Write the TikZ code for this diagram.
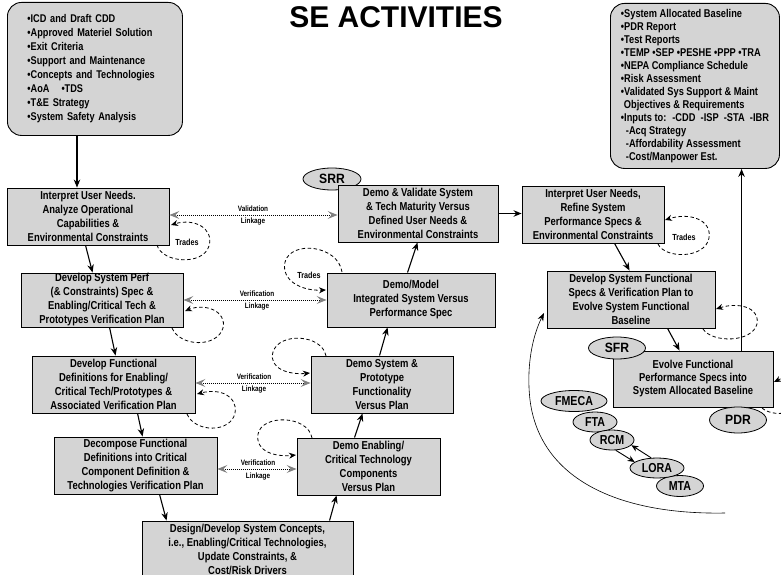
\documentclass[tikz,border=0pt]{standalone}
\usepackage{fontspec}
\setmainfont{Liberation Sans}[FakeStretch=0.82]
\newfontfamily\titlefont{Liberation Sans}
\newfontfamily\ovfont{Liberation Sans}[FakeStretch=0.9]
\usetikzlibrary{arrows.meta,shapes.geometric}
\definecolor{boxgray}{RGB}{212,212,212}
\definecolor{tipgray}{RGB}{128,128,128}
\begin{document}
\begin{tikzpicture}[x=1pt,y=-1pt,
 box/.style={draw, line width=0.9pt, fill=boxgray, inner sep=0pt, align=center, font=\fontsize{11.5}{14}\selectfont\bfseries},
 rbox/.style={draw, line width=0.9pt, fill=boxgray, rounded corners=14pt, inner sep=0pt, align=left},
 oval/.style={draw, line width=0.8pt, fill=boxgray, ellipse, inner sep=0pt},
 arr/.style={line width=1.1pt, -{Stealth[length=8pt,width=6.5pt]}},
 vlink/.style={line width=1pt, dash pattern=on 1pt off 1pt, {Stealth[length=10pt,width=8pt,inset=4pt,color=tipgray,fill=tipgray]}-{Stealth[length=10pt,width=8pt,inset=4pt,color=tipgray,fill=tipgray]}},
 dloop/.style={line width=0.8pt, dash pattern=on 3.5pt off 2.5pt, -{Stealth[length=7pt,width=6pt]}},
 lbl/.style={font=\fontsize{7.8}{8}\selectfont\bfseries, inner sep=0pt},
 trd/.style={font=\fontsize{8.8}{9}\selectfont\bfseries, inner sep=0pt},
 ovl/.style={font=\ovfont\bfseries\fontsize{13.5}{14}\selectfont},
 ovs/.style={font=\fontsize{13}{13}\selectfont\bfseries},
]
\useasboundingbox (0,0) rectangle (781,575);

% title
\node[font=\titlefont\bfseries\fontsize{30}{30}\selectfont, inner sep=0pt] (title) at (396,17) {SE ACTIVITIES};

% input / output rounded boxes
\node[rbox, anchor=north west, minimum width=175pt, minimum height=133pt, text width=135pt,
      font=\fontsize{11.2}{14}\selectfont\bfseries] (TL) at (7,2)
 {•ICD and Draft CDD\\•Approved Materiel Solution\\•Exit Criteria\\•Support and Maintenance\\•Concepts and Technologies\\•AoA\hspace{12pt}•TDS\\•T\&E Strategy\\•System Safety Analysis};

\node[rbox, anchor=north west, minimum width=169pt, minimum height=165pt,
      font=\fontsize{11.3}{13}\selectfont\bfseries] (TR) at (610,3)
 {•System Allocated Baseline\\•PDR Report\\•Test Reports\\•TEMP •SEP •PESHE •PPP •TRA\\•NEPA Compliance Schedule\\•Risk Assessment\\•Validated Sys Support \& Maint\\\hspace*{3pt}Objectives \& Requirements\\•Inputs to: \ -CDD \ -ISP \ -STA \ -IBR\\\hspace*{5pt}-Acq Strategy\\\hspace*{5pt}-Affordability Assessment\\\hspace*{5pt}-Cost/Manpower Est.};

% SRR behind its box
\node[oval, ovl, minimum width=58pt, minimum height=22pt] (SRR) at (332,179) {SRR};

% activity boxes
\node[box, minimum width=162pt, minimum height=57pt] (B1) at (88,216.5) {Interpret User Needs.\\Analyze Operational\\Capabilities \&\\Environmental Constraints};
\node[box, minimum width=162pt, minimum height=54pt] (B2) at (102,300) {Develop System Perf\\(\& Constraints) Spec \&\\Enabling/Critical Tech \&\\Prototypes Verification Plan};
\node[box, minimum width=163pt, minimum height=57pt] (B3) at (113.5,384.5) {Develop Functional\\Definitions for Enabling/\\Critical Tech/Prototypes \&\\Associated Verification Plan};
\node[box, minimum width=163pt, minimum height=57pt] (B4) at (135.5,465.5) {Decompose Functional\\Definitions into Critical\\Component Definition \&\\Technologies Verification Plan};
\node[box, minimum width=211pt, minimum height=56pt] (B5) at (247.5,549) {Design/Develop System Concepts,\\i.e., Enabling/Critical Technologies,\\Update Constraints, \&\\Cost/Risk Drivers};
\node[box, minimum width=143pt, minimum height=57pt] (B6) at (368.5,466.5) {Demo Enabling/\\Critical Technology\\Components\\Versus Plan};
\node[box, minimum width=142pt, minimum height=57pt] (B7) at (382,384.5) {Demo System \&\\Prototype\\Functionality\\Versus Plan};
\node[box, minimum width=168pt, minimum height=54pt] (B8) at (411,300) {Demo/Model\\Integrated System Versus\\Performance Spec};
\node[box, minimum width=160pt, minimum height=57pt] (B9) at (418,213.5) {Demo \& Validate System\\\& Tech Maturity Versus\\Defined User Needs \&\\Environmental Constraints};
\node[box, minimum width=142pt, minimum height=57pt] (B10) at (593,214.5) {Interpret User Needs,\\Refine System\\Performance Specs \&\\Environmental Constraints};
\node[box, minimum width=168pt, minimum height=57pt] (B11) at (631,299.5) {Develop System Functional\\Specs \& Verification Plan to\\Evolve System Functional\\Baseline};
\node[box, minimum width=160pt, minimum height=56pt, font=\fontsize{11.5}{13}\selectfont\bfseries] (B12) at (693,379) {Evolve Functional\\Performance Specs into\\System Allocated Baseline};

% review ovals
\node[oval, ovl, minimum width=57pt, minimum height=22pt] (SFR) at (617,348) {SFR};
\node[oval, ovl, minimum width=57pt, minimum height=26pt] (PDR) at (738,420) {PDR};
\node[oval, ovs, minimum width=66pt, minimum height=21pt] (FMECA) at (574,401) {FMECA};
\node[oval, ovs, minimum width=44pt, minimum height=20pt] (FTA) at (595,422) {FTA};
\node[oval, ovs, minimum width=44pt, minimum height=20pt] (RCM) at (612,440) {RCM};
\node[oval, ovs, minimum width=47pt, minimum height=21pt] (MTA) at (680,486) {MTA};
\node[oval, ovs, minimum width=54pt, minimum height=20pt] (LORA) at (657,468) {LORA};

% main flow arrows
\coordinate (c0) at ([xshift=70pt]TL.south west);
\draw[arr] (c0) -- (c0 |- B1.north);
\draw[arr] ([xshift=79pt]B1.south west) -- ([xshift=72pt]B2.north west);
\draw[arr] ([xshift=89pt]B2.south west) -- ([xshift=84pt]B3.north west);
\draw[arr] ([xshift=106pt]B3.south west) -- ([xshift=89pt]B4.north west);
\draw[arr] ([xshift=106pt]B4.south west) -- ([xshift=25pt]B5.north west);
\draw[arr] ([xshift=188pt]B5.north west) -- ([xshift=40pt]B6.south west);
\draw[arr] ([xshift=58pt]B6.north west) -- ([xshift=52pt]B7.south west);
\draw[arr] ([xshift=69pt]B7.north west) -- ([xshift=61pt]B8.south west);
\draw[arr] ([xshift=81pt]B8.north west) -- ([xshift=80pt]B9.south west);
\draw[arr] (B9.east) -- (B9.east -| B10.west);
\draw[arr] ([xshift=93pt]B10.south west) -- ([xshift=83pt]B11.north west);
\draw[arr] ([xshift=121pt]B11.south west) -- ([xshift=67pt]B12.north west);
\coordinate (up0) at ([xshift=129pt]B12.north west);
\draw[arr] (up0) -- (up0 |- TR.south);

% validation / verification linkages
\coordinate (v0) at (253,215);
\draw[vlink] (v0 -| B1.east) -- (v0 -| B9.west);
\node[lbl] (v0a) at (253,209) {Validation};
\node[lbl] (v0b) at (253,221) {Linkage};
\coordinate (v1) at (257,300);
\draw[vlink] (v1 -| B2.east) -- (v1 -| B8.west);
\node[lbl] (v1a) at (257,294) {Verification};
\node[lbl] (v1b) at (257,306) {Linkage};
\coordinate (v2) at (254,383);
\draw[vlink] (v2 -| B3.east) -- (v2 -| B7.west);
\node[lbl] (v2a) at (254,377) {Verification};
\node[lbl] (v2b) at (254,389) {Linkage};
\coordinate (v3) at (258,469);
\draw[vlink] (v3 -| B4.east) -- (v3 -| B6.west);
\node[lbl] (v3a) at (258,463) {Verification};
\node[lbl] (v3b) at (258,476) {Linkage};

% trade loops
\draw[dloop] (157,245) .. controls (162,263) and (203,266) .. (209,246) .. controls (214,228) and (194,218) .. (171,225);
\node[trd] (t1) at (187,242) {Trades};
\draw[dloop] (172,328) .. controls (180,347) and (217,348) .. (223,328) .. controls (227,311) and (205,303) .. (185,311);
\draw[dloop] (187,414) .. controls (195,433) and (231,433) .. (235,413) .. controls (238,396) and (220,388) .. (197,394);
\draw[dloop] (342,272) .. controls (338,245) and (291,240) .. (285,262) .. controls (281,281) and (302,291) .. (326,290);
\node[trd] (t8) at (309,275) {Trades};
\draw[dloop] (326,356) .. controls (322,334) and (279,332) .. (273,352) .. controls (268,369) and (290,375) .. (310,373);
\draw[dloop] (312,438) .. controls (308,415) and (262,414) .. (258,434) .. controls (255,452) and (276,457) .. (296,455);
\draw[dloop] (658,244) .. controls (665,259) and (705,259) .. (709,238) .. controls (712,220) and (690,212) .. (665,220);
\node[trd] (t10) at (684,237) {Trades};
\draw[dloop] (703,329) .. controls (712,343) and (752,343) .. (757,324) .. controls (760,307) and (738,302) .. (716,309);
\draw[dloop] (762,408) .. controls (772,417) and (800,416) .. (805,396) .. controls (808,378) and (792,373) .. (774,382);

% support analysis arc and arrows
\draw[line width=0.6pt, -{Stealth[length=8pt,width=6pt]}] (725,513) .. controls (620,515) and (540,480) .. (530,400) .. controls (526,365) and (533,335) .. (544,313);
\draw[line width=0.9pt, -{Stealth[length=7pt,width=6pt]}] (RCM.-70) -- (LORA.165);
\draw[line width=0.9pt, -{Stealth[length=7pt,width=6pt]}] (LORA.120) -- (RCM.-15);
\end{tikzpicture}
\end{document}
